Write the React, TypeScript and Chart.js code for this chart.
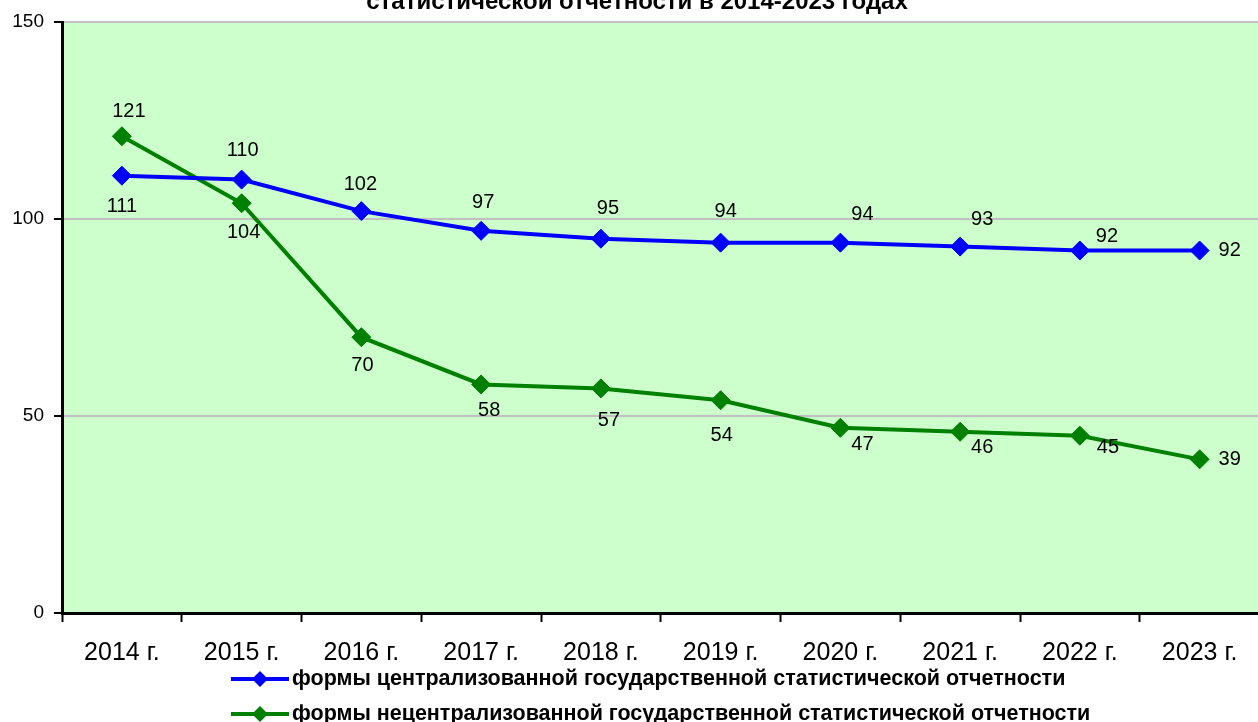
import React, { useEffect, useRef } from 'react';
import { Chart, registerables } from 'chart.js';

Chart.register(...registerables);

const categories = ['2014 г.', '2015 г.', '2016 г.', '2017 г.', '2018 г.', '2019 г.', '2020 г.', '2021 г.', '2022 г.', '2023 г.'];
const centralized = [111, 110, 102, 97, 95, 94, 94, 93, 92, 92];
const decentralized = [121, 104, 70, 58, 57, 54, 47, 46, 45, 39];
const yTickValues = [0, 50, 100, 150];
const seriesNames = [
  'формы централизованной государственной статистической отчетности',
  'формы нецентрализованной государственной статистической отчетности',
];
const titleText = 'статистической отчетности в 2014-2023 годах';

// label placement (style only): [dx, dy] from the point
const centralLabelOffsets = [[0, 31], [1, -29], [-1, -27], [2, -28], [7, -30], [5, -31], [22, -28], [22, -27], [27, -14], [30, 0]];
const decentralLabelOffsets = [[7, -25], [2, 29], [1, 28], [8, 26], [8, 32], [1, 35], [22, 17], [22, 16], [28, 12], [30, 0]];

const BLUE = '#0000ff';
const GREEN = '#008000';
const FONT = '"Liberation Sans", Arial, sans-serif';

function diamond(ctx: CanvasRenderingContext2D, x: number, y: number, r: number, color: string) {
  ctx.beginPath();
  ctx.moveTo(x, y - r);
  ctx.lineTo(x + r, y);
  ctx.lineTo(x, y + r);
  ctx.lineTo(x - r, y);
  ctx.closePath();
  ctx.fillStyle = color;
  ctx.fill();
}

const decorPlugin = {
  id: 'decor',
  beforeDraw(chart: any) {
    const { ctx, chartArea, width, height } = chart;
    ctx.save();
    ctx.fillStyle = '#ffffff';
    ctx.fillRect(0, 0, width, height);
    ctx.fillStyle = '#ccffcc';
    ctx.fillRect(chartArea.left, chartArea.top, chartArea.right - chartArea.left, chartArea.bottom - chartArea.top);
    ctx.restore();
  },
  afterDatasetsDraw(chart: any) {
    const { ctx } = chart;
    const offsets = [centralLabelOffsets, decentralLabelOffsets];
    ctx.save();
    ctx.font = `20px ${FONT}`;
    ctx.fillStyle = '#000';
    ctx.textAlign = 'center';
    ctx.textBaseline = 'middle';
    chart.data.datasets.forEach((ds: any, di: number) => {
      const meta = chart.getDatasetMeta(di);
      meta.data.forEach((pt: any, i: number) => {
        const [dx, dy] = offsets[di][i];
        ctx.fillText(String(ds.data[i]), pt.x + dx, pt.y + dy);
      });
    });
    ctx.restore();
  },
  afterDraw(chart: any) {
    const { ctx } = chart;
    ctx.save();
    // title (cut off at the top edge)
    ctx.font = `bold 24px ${FONT}`;
    ctx.fillStyle = '#000';
    ctx.textAlign = 'center';
    ctx.textBaseline = 'alphabetic';
    ctx.fillText(titleText, 637, 8.5);
    // legend
    const colors = [BLUE, GREEN];
    seriesNames.forEach((name, i) => {
      const y = 679 + i * 35;
      ctx.strokeStyle = colors[i];
      ctx.lineWidth = 4;
      ctx.beginPath();
      ctx.moveTo(231, y);
      ctx.lineTo(289, y);
      ctx.stroke();
      diamond(ctx, 260, y, 8, colors[i]);
      ctx.font = `bold 21.5px ${FONT}`;
      ctx.fillStyle = '#000';
      ctx.textAlign = 'left';
      ctx.textBaseline = 'middle';
      ctx.fillText(name, 292, y);
    });
    ctx.restore();
  },
};

export default function App() {
  const canvasRef = useRef<HTMLCanvasElement | null>(null);

  useEffect(() => {
    document.body.style.margin = '0';
    document.body.style.overflow = 'hidden';
    const canvas = canvasRef.current;
    if (!canvas) return;
    const chart = new Chart(canvas, {
      type: 'line',
      data: {
        labels: categories,
        datasets: [
          {
            label: seriesNames[0],
            data: centralized,
            borderColor: BLUE,
            backgroundColor: BLUE,
            borderWidth: 4,
            pointStyle: 'rectRot',
            pointRadius: 9.5,
            pointBorderWidth: 1,
            pointBackgroundColor: BLUE,
            pointBorderColor: BLUE,
            tension: 0,
          },
          {
            label: seriesNames[1],
            data: decentralized,
            borderColor: GREEN,
            backgroundColor: GREEN,
            borderWidth: 4,
            pointStyle: 'rectRot',
            pointRadius: 9.5,
            pointBorderWidth: 1,
            pointBackgroundColor: GREEN,
            pointBorderColor: GREEN,
            tension: 0,
          },
        ],
      },
      options: {
        responsive: false,
        animation: false,
        layout: { padding: { top: 22, right: 5, left: 0, bottom: 0 } },
        plugins: {
          legend: { display: false },
          title: { display: false },
          tooltip: { enabled: false },
        },
        scales: {
          x: {
            type: 'category',
            offset: true,
            grid: {
              offset: true,
              drawOnChartArea: false,
              drawTicks: true,
              tickLength: 9,
              tickColor: '#000',
              tickWidth: 2,
              color: '#000',
            },
            border: { display: true, color: '#000', width: 3 },
            ticks: {
              color: '#000',
              font: { family: FONT, size: 25 },
              padding: 16,
              maxRotation: 0,
              autoSkip: false,
            },
            afterFit: (s: any) => { s.height = 109; },
          },
          y: {
            min: 0,
            max: 150,
            afterBuildTicks: (s: any) => { s.ticks = yTickValues.map((v) => ({ value: v })); },
            grid: {
              color: '#c0c0c0',
              lineWidth: 2,
              tickColor: '#000',
              tickLength: 8,
              tickWidth: 2,
            },
            border: { display: true, color: '#000', width: 3 },
            ticks: {
              color: '#000',
              font: { family: FONT, size: 19 },
              padding: 10,
            },
            afterFit: (s: any) => { s.width = 62; },
          },
        },
      },
      plugins: [decorPlugin],
    });
    return () => chart.destroy();
  }, []);

  return (
    <div style={{ position: 'fixed', left: 0, top: 0, width: 1258, height: 722, overflow: 'hidden', background: '#fff' }}>
      <canvas ref={canvasRef} width={1270} height={722} style={{ width: 1270, height: 722, display: 'block' }} />
    </div>
  );
}
